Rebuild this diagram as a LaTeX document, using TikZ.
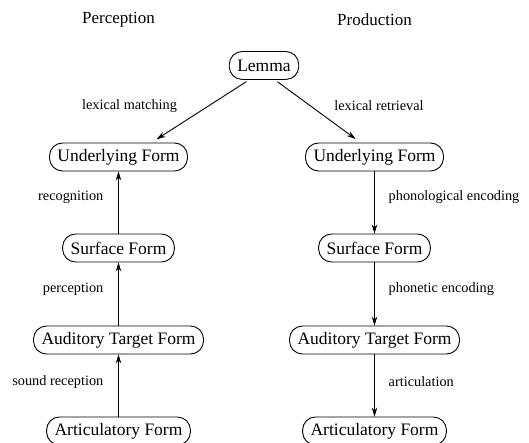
\documentclass[tikz,border=0pt]{standalone}
\usepackage{fontspec}
\setmainfont{Liberation Serif}
\usetikzlibrary{arrows.meta}
\begin{document}
\begin{tikzpicture}[x=1pt,y=-1pt,
  form/.style={draw,line width=0.9pt,rounded corners=13pt,minimum height=28pt,inner xsep=8pt,inner ysep=2pt,font=\fontsize{17.5}{20}\selectfont},
  head/.style={font=\fontsize{17}{20}\selectfont},
  lab/.style={font=\fontsize{14.3}{17}\selectfont,inner sep=0pt},
  arr/.style={line width=0.9pt,-{Stealth[length=9pt,width=5.5pt]}}]
\useasboundingbox (0,0) rectangle (529,443);
\node[head] (hperc) at (118.5,20) {Perception};
\node[head] (hprod) at (374.5,20) {Production};
\node[form] (lemma) at (264,65.5) {Lemma};
\node[form] (uf1) at (118.5,157) {Underlying Form};
\node[form] (sf1) at (118.5,248) {Surface Form};
\node[form] (atf1) at (118.5,340) {Auditory Target Form};
\node[form] (af1) at (118.5,431) {Articulatory Form};
\node[form] (uf2) at (374.5,157) {Underlying Form};
\node[form] (sf2) at (374.5,248) {Surface Form};
\node[form] (atf2) at (374.5,340) {Auditory Target Form};
\node[form] (af2) at (374.5,431) {Articulatory Form};
\draw[arr,shorten <=3pt,shorten >=6pt] ([xshift=-15pt]lemma.south) -- ([xshift=33pt]uf1.north);
\draw[arr,shorten <=3pt,shorten >=6pt] ([xshift=11pt]lemma.south) -- ([xshift=-14pt]uf2.north);
\draw[arr] (sf1.north) -- (sf1.north |- uf1.south);
\draw[arr] (atf1.north) -- (atf1.north |- sf1.south);
\draw[arr] (af1.north) -- (af1.north |- atf1.south);
\draw[arr] (uf2.south) -- (uf2.south |- sf2.north);
\draw[arr] (sf2.south) -- (sf2.south |- atf2.north);
\draw[arr] (atf2.south) -- (atf2.south |- af2.north);
\node[lab] (l1) at (129.5,106) {lexical matching};
\node[lab] (l2) at (379,106) {lexical retrieval};
\node[lab,anchor=east] (l3) at (103.5,197) {recognition};
\node[lab,anchor=west] (l4) at (388.5,197) {phonological encoding};
\node[lab,anchor=east] (l5) at (103.5,289) {perception};
\node[lab,anchor=west] (l6) at (388.5,289) {phonetic encoding};
\node[lab,anchor=east] (l7) at (103.5,382) {sound reception};
\node[lab,anchor=west] (l8) at (388.5,382) {articulation};
\end{tikzpicture}
\end{document}
